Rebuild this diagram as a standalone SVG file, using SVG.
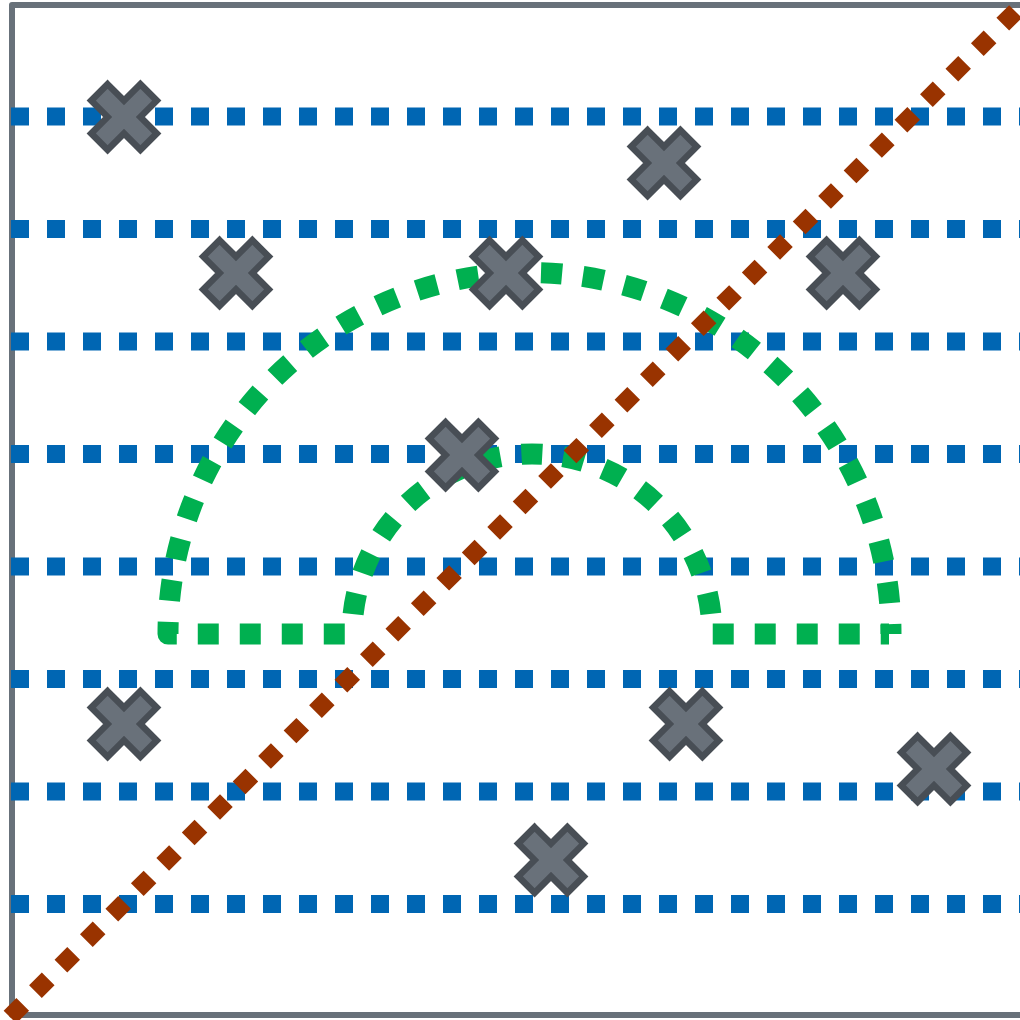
<svg xmlns="http://www.w3.org/2000/svg" width="1020" height="1020" viewBox="0 0 1020 1020">
  <style>
    .spine { fill: none; stroke: #68717a; stroke-width: 6; stroke-linejoin: round; }
    .hline { fill: none; stroke: #0066b3; stroke-width: 18; stroke-dasharray: 18 18; }
    .arc { fill: none; stroke: #00b050; stroke-width: 21; stroke-dasharray: 21 21; stroke-linejoin: round; }
    .diag { fill: none; stroke: #993300; stroke-width: 18; stroke-dasharray: 18 18; }
    .mk { fill: #69717a; stroke: #484e55; stroke-width: 6.5; stroke-linejoin: miter; }
  </style>
  <defs>
    <path id="xm" d="M-16.4,-32.8 L0,-16.4 L16.4,-32.8 L32.8,-16.4 L16.4,0 L32.8,16.4 L16.4,32.8 L0,16.4 L-16.4,32.8 L-32.8,16.4 L-16.4,0 L-32.8,-16.4 Z"/>
  </defs>
  <rect x="0" y="0" width="1020" height="1020" fill="#ffffff"/>
  <path class="spine" d="M1030,5 H12 V1015 H1030"/>
  <g id="connectors">
    <g id="hlines">
      <line class="hline" x1="11" y1="116.5" x2="1030" y2="116.5"/>
      <line class="hline" x1="11" y1="229" x2="1030" y2="229"/>
      <line class="hline" x1="11" y1="341.5" x2="1030" y2="341.5"/>
      <line class="hline" x1="11" y1="454" x2="1030" y2="454"/>
      <line class="hline" x1="11" y1="566.5" x2="1030" y2="566.5"/>
      <line class="hline" x1="11" y1="679" x2="1030" y2="679"/>
      <line class="hline" x1="11" y1="791.5" x2="1030" y2="791.5"/>
      <line class="hline" x1="11" y1="904" x2="1030" y2="904"/>
    </g>
    <g id="arch">
      <path class="arc" stroke-dashoffset="11" d="M891,634 A361.5,361.5 0 0 0 168,634 L352,634"/>
      <path class="arc" stroke-dashoffset="22" d="M352,634 A180,180 0 0 1 712,634 L889,634"/>
    </g>
    <line id="diagonal" class="diag" x1="10" y1="1017" x2="1022" y2="5"/>
  </g>
  <g id="m1"><use href="#xm" class="mk" x="124" y="117"/></g>
  <g id="m2"><use href="#xm" class="mk" x="664" y="163"/></g>
  <g id="m3"><use href="#xm" class="mk" x="236" y="273"/></g>
  <g id="m4"><use href="#xm" class="mk" x="506" y="273"/></g>
  <g id="m5"><use href="#xm" class="mk" x="843" y="273"/></g>
  <g id="m6"><use href="#xm" class="mk" x="462" y="455"/></g>
  <g id="m7"><use href="#xm" class="mk" x="124" y="724"/></g>
  <g id="m8"><use href="#xm" class="mk" x="686" y="724"/></g>
  <g id="m9"><use href="#xm" class="mk" x="934" y="769"/></g>
  <g id="m10"><use href="#xm" class="mk" x="551" y="860"/></g>
</svg>
